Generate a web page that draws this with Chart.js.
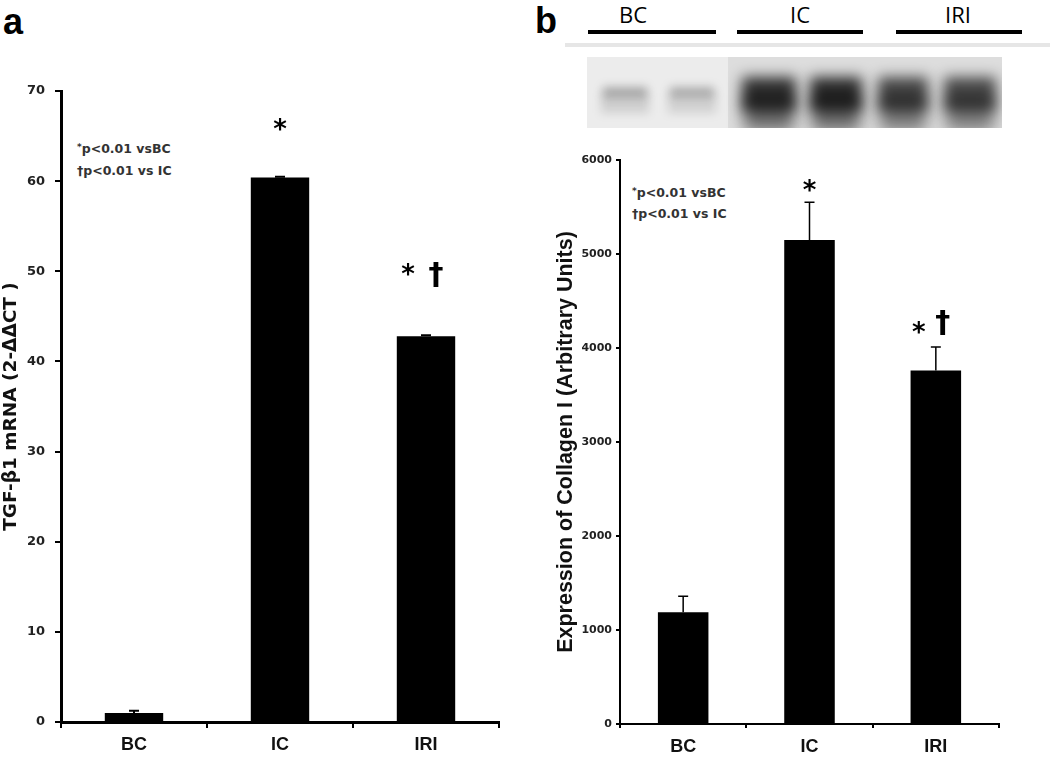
<!DOCTYPE html>
<html>
<head>
<meta charset="utf-8">
<script src="https://cdn.jsdelivr.net/npm/chart.js@4.4.1/dist/chart.umd.min.js"></script>
<style>
  html, body { margin: 0; padding: 0; background: #fff; }
  #page { position: relative; width: 1050px; height: 758px; overflow: hidden; }
  canvas, .txt, .rule { position: absolute; }
  .panel { font: bold 36px 'Liberation Sans', Arial, sans-serif; line-height: 36px; }
  .note { font: bold 12.5px 'DejaVu Sans', sans-serif; color: #333; white-space: nowrap; }
  .note small { font-size: 9px; vertical-align: 3px; }
  .lane { font: 22px 'Open Sans', sans-serif; line-height: 22px; transform: translateX(-50%); }
  .rule { height: 4px; background: #000; }
</style>
</head>
<body>
<div id="page">
  <div class="txt panel" style="left:3px; top:4px;">a</div>
  <div class="txt panel" style="left:535px; top:3px;">b</div>

  <div class="txt note" style="left:77px; top:136px; line-height:22px;"><small>*</small>p&lt;0.01 vsBC<br>†p&lt;0.01 vs IC</div>
  <div class="txt note" style="left:632px; top:181px; line-height:21px;"><small>*</small>p&lt;0.01 vsBC<br>†p&lt;0.01 vs IC</div>

  <div class="txt lane" style="left:633px; top:3px;">BC</div>
  <div class="txt lane" style="left:800px; top:3px;">IC</div>
  <div class="txt lane" style="left:958px; top:3px;">IRI</div>
  <div class="rule" style="left:588px; width:128px; top:30px;"></div>
  <div class="rule" style="left:737px; width:126px; top:30px;"></div>
  <div class="rule" style="left:896px; width:126px; top:30px;"></div>
  <div class="rule" style="left:565px; width:485px; top:43px; background:#e6e6e6;"></div>

  <canvas id="blot" width="415" height="71" style="left:587px; top:57px;"></canvas>
  <canvas id="chartA" width="520" height="758" style="left:0; top:0;"></canvas>
  <canvas id="chartB" width="530" height="618" style="left:520px; top:140px;"></canvas>
</div>

<script>
const groups = ['BC', 'IC', 'IRI'];

const tgfMean = [1.0, 60.4, 42.8];
const tgfErr = [0.25, 0.1, 0.1];
const tgfTicks = [0, 10, 20, 30, 40, 50, 60, 70];

const colMean = [1190, 5150, 3760];
const colErr = [170, 400, 250];
const colTicks = [0, 1000, 2000, 3000, 4000, 5000, 6000];

const sigMarks = ['', '*', '*†'];

// band darkness of the six blot lanes (2 per group)
const blotLanes = [0.3, 0.28, 0.92, 0.94, 0.8, 0.78];

Chart.defaults.font.family = "'Liberation Sans', Arial, sans-serif";
Chart.defaults.color = '#000';

// centre a glyph on its ink box
function glyph(ctx, t, x, cy) {
    const m = ctx.measureText(t);
    ctx.fillText(t, x, cy + (m.actualBoundingBoxAscent - m.actualBoundingBoxDescent) / 2);
}

const errorBars = {
    id: 'errorBars',
    afterDatasetsDraw(chart, args, opts) {
        const ctx = chart.ctx;
        const yScale = chart.scales.y;
        const meta = chart.getDatasetMeta(0);
        const values = chart.data.datasets[0].data;

        ctx.save();
        ctx.strokeStyle = '#000';
        ctx.lineWidth = opts.width;
        meta.data.forEach((bar, i) => {
            const top = yScale.getPixelForValue(values[i] + opts.errors[i]);
            ctx.beginPath();
            ctx.moveTo(bar.x, bar.y);
            ctx.lineTo(bar.x, top);
            ctx.moveTo(bar.x - opts.cap / 2, top);
            ctx.lineTo(bar.x + opts.cap / 2, top);
            ctx.stroke();

            const marks = opts.marks[i];
            if (!marks) return;
            ctx.fillStyle = '#000';
            ctx.textAlign = 'center';
            ctx.textBaseline = 'alphabetic';
            const cy = top - opts.gaps[i];
            if (marks.length === 1) {
                ctx.font = "bold 26px 'DejaVu Sans'";
                glyph(ctx, '*', bar.x, cy);
            } else {
                ctx.font = "bold 26px 'DejaVu Sans'";
                glyph(ctx, '*', bar.x + opts.starDx, cy);
                ctx.font = "bold 30px 'DejaVu Sans'";
                glyph(ctx, '†', bar.x + opts.dagDx, cy + opts.dagDy);
            }
        });
        ctx.restore();
    }
};

function makeChart(el, values, errors, ticks, cfg) {
    return new Chart(document.getElementById(el), {
        type: 'bar',
        data: {
            labels: groups,
            datasets: [{
                data: values,
                backgroundColor: '#000',
                borderWidth: 0,
                barPercentage: 0.4,
                categoryPercentage: 1
            }]
        },
        options: {
            responsive: false,
            animation: false,
            devicePixelRatio: 1,
            layout: { padding: cfg.padding },
            plugins: {
                legend: { display: false },
                tooltip: { enabled: false },
                errorBars: {
                    errors: errors,
                    marks: sigMarks,
                    width: cfg.errWidth,
                    cap: cfg.cap,
                    gaps: cfg.gaps,
                    starDx: cfg.starDx,
                    dagDx: cfg.dagDx,
                    dagDy: cfg.dagDy
                }
            },
            scales: {
                x: {
                    afterFit: (scale) => { scale.height = cfg.xHeight; },
                    border: { color: '#000', width: cfg.axisWidth },
                    grid: {
                        offset: true,
                        drawOnChartArea: false,
                        color: '#000',
                        lineWidth: 2,
                        tickLength: cfg.tickLength
                    },
                    ticks: {
                        font: { size: 18, weight: 'bold' },
                        color: '#111',
                        padding: cfg.xPad
                    }
                },
                y: {
                    min: ticks[0],
                    max: ticks[ticks.length - 1],
                    afterFit: (scale) => { scale.width = cfg.yWidth; },
                    afterBuildTicks: (scale) => {
                        scale.ticks = ticks.map(v => ({ value: v }));
                    },
                    border: { color: '#000', width: cfg.axisWidth },
                    grid: {
                        drawOnChartArea: false,
                        color: '#000',
                        lineWidth: 2,
                        tickLength: cfg.tickLength
                    },
                    ticks: {
                        font: { family: "'DejaVu Sans'", size: cfg.tickSize, weight: 'bold' },
                        color: '#222',
                        padding: cfg.yPad,
                        callback: (v) => String(v)
                    },
                    title: {
                        display: true,
                        text: cfg.title,
                        font: cfg.titleFont,
                        color: '#111',
                        padding: { top: cfg.titlePad, bottom: 0 }
                    }
                }
            }
        },
        plugins: [errorBars]
    });
}

makeChart('chartA', tgfMean, tgfErr, tgfTicks, {
    padding: { top: 91, right: 21, left: 0, bottom: 0 },
    xHeight: 36, yWidth: 61, axisWidth: 3, tickLength: 6,
    xPad: 6, yPad: 10, tickSize: 13,
    title: 'TGF-β1 mRNA (2-ΔΔCT )',
    titleFont: { family: "'DejaVu Sans'", size: 18.5, weight: 'bold' },
    titlePad: 0,
    errWidth: 2, cap: 10,
    gaps: [0, 52, 66], starDx: -18, dagDx: 10, dagDy: 6
});

makeChart('chartB', colMean, colErr, colTicks, {
    padding: { top: 20, right: 51, left: 0, bottom: 0 },
    xHeight: 34, yWidth: 100, axisWidth: 2, tickLength: 4,
    xPad: 8, yPad: 4, tickSize: 11,
    title: 'Expression of Collagen I (Arbitrary Units)',
    titleFont: { size: 21.5, weight: 'bold' },
    titlePad: 33,
    errWidth: 1.5, cap: 10,
    gaps: [0, 17, 20], starDx: -17, dagDx: 7, dagDy: -4
});

// western blot strip above panel b
const blot = document.getElementById('blot').getContext('2d');
const bw = 415, bh = 71;
blot.fillStyle = '#ececec';
blot.fillRect(0, 0, bw, bh);
blot.fillStyle = '#dddddd';
blot.fillRect(141, 0, bw - 141, bh);

const laneX = [38, 105, 182, 249, 316, 383];
const laneW = [48, 48, 58, 56, 54, 56];
blotLanes.forEach((d, i) => {
    const x = laneX[i], w = laneW[i];
    if (d < 0.5) {
        blot.filter = 'blur(5px)';
        blot.fillStyle = `rgba(0,0,0,${d * 0.4})`;
        blot.fillRect(x - w / 2, 36, w, 20);
        blot.fillStyle = `rgba(0,0,0,${d * 0.9})`;
        blot.fillRect(x - w / 2 + 2, 30, w - 4, 10);
    } else {
        blot.filter = 'blur(8px)';
        blot.fillStyle = `rgba(0,0,0,${d * 0.55})`;
        blot.fillRect(x - w / 2 + 4, 38, w - 8, 36);
        blot.filter = 'blur(7px)';
        blot.fillStyle = `rgba(0,0,0,${d * 0.85})`;
        blot.fillRect(x - w / 2 + 2, 20, w - 4, 34);
    }
});
blot.filter = 'none';
</script>
</body>
</html>
